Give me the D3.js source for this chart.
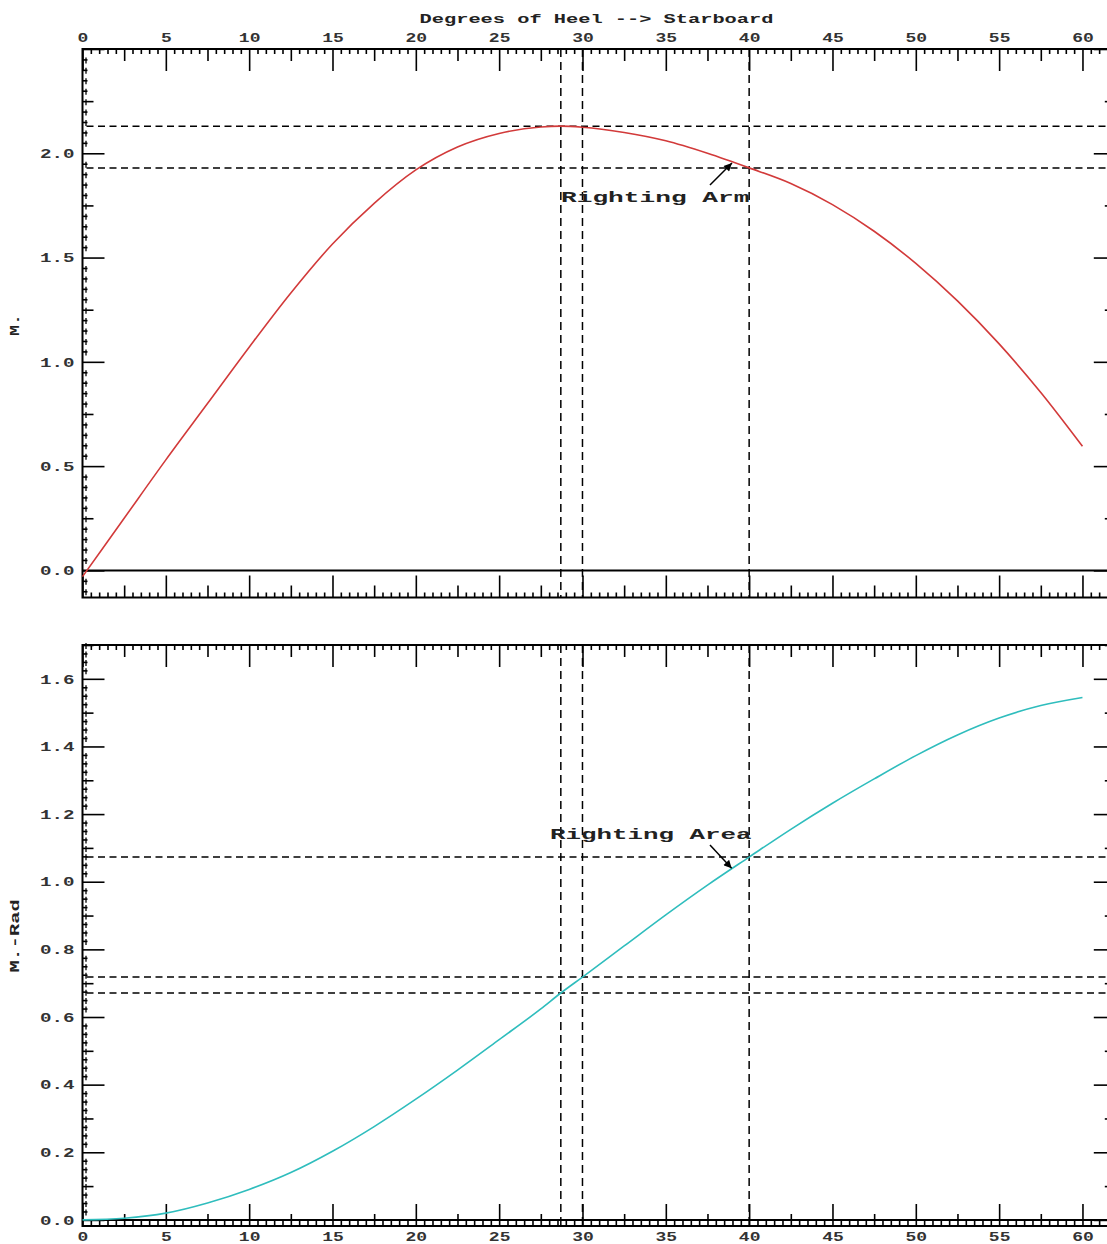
<!DOCTYPE html>
<html>
<head>
<meta charset="utf-8">
<script src="https://cdn.jsdelivr.net/npm/d3@7"></script>
<style>
  html, body { margin: 0; padding: 0; background: #fff; }
  svg { display: block; }
</style>
</head>
<body>
<svg id="chart" width="1107" height="1244"></svg>
<script>
// ---------------- DATA ----------------
const xTickLabels = [0, 5, 10, 15, 20, 25, 30, 35, 40, 45, 50, 55, 60];
const topYTickLabels = [0.0, 0.5, 1.0, 1.5, 2.0];
const bottomYTickLabels = [0.0, 0.2, 0.4, 0.6, 0.8, 1.0, 1.2, 1.4, 1.6];

const heelDeg = [0, 2.5, 5, 7.5, 10, 12.5, 15, 17.5, 20, 22.5, 25, 27.5, 28.7, 30, 32.5, 35, 37.5, 40, 42.5, 45, 47.5, 50, 52.5, 55, 57.5, 60];
const rightingArm = [-0.03, 0.25, 0.53, 0.80, 1.07, 1.33, 1.565, 1.76, 1.92, 2.03, 2.095, 2.126, 2.13, 2.125, 2.10, 2.06, 2.00, 1.93, 1.855, 1.754, 1.626, 1.472, 1.292, 1.086, 0.853, 0.595];
const rightingArea = [0.0, 0.005, 0.02, 0.05, 0.09, 0.14, 0.203, 0.276, 0.357, 0.443, 0.533, 0.624, 0.671, 0.718, 0.81, 0.902, 0.99, 1.073, 1.155, 1.232, 1.304, 1.373, 1.434, 1.484, 1.521, 1.545];

const refHeel = [28.7, 30, 40];
const refArm = [2.13, 1.93];
const refArea = [1.073, 0.718, 0.671];

const xTitle = "Degrees of Heel --> Starboard";
const topYTitle = "M.";
const bottomYTitle = "M.-Rad";
const armLabel = "Righting Arm";
const areaLabel = "Righting Area";
// annotation arrows: [tailX, tailY, tipX, tipY] in data units
const armArrow = [37.65, 1.848, 38.97, 1.953];
const areaArrow = [37.65, 1.1085, 38.95, 1.0396];

// ---------------- SETUP ----------------
const svg = d3.select("#chart");
const FONT = "'Liberation Mono', 'DejaVu Sans Mono', monospace";

const x = d3.scaleLinear().domain([0, 62]).range([82.5, 1115.8]);
const yTop = d3.scaleLinear().domain([-0.13, 2.5]).range([597.5, 49]);
const yBot = d3.scaleLinear().domain([-0.018, 1.7]).range([1226, 645]);

const defs = svg.append("defs");
defs.append("marker")
  .attr("id", "arrowhead")
  .attr("viewBox", "0 0 10 10")
  .attr("refX", 10).attr("refY", 5)
  .attr("markerWidth", 12).attr("markerHeight", 8)
  .attr("markerUnits", "userSpaceOnUse")
  .attr("orient", "auto")
  .append("path").attr("d", "M0,0 L10,5 L0,10 z").attr("fill", "#000");

function styleText(sel, charW, size, color) {
  sel.attr("font-family", FONT)
     .attr("font-weight", "bold")
     .attr("font-size", size)
     .attr("fill", color)
     .attr("lengthAdjust", "spacingAndGlyphs")
     .attr("textLength", function() { return this.textContent.length * charW; });
}

function tickSet(g, axisFn, scale, values, size) {
  g.call(axisFn(scale).tickValues(values).tickSize(size).tickFormat(""));
  g.select(".domain").remove();
  g.selectAll(".tick line").attr("stroke", "#000").attr("stroke-width", 1.6);
  g.selectAll(".tick text").remove();
}

const xAll = d3.range(0, 125).map(i => i * 0.5);
const xMinor = xAll.filter((d, i) => i % 5 !== 0);
const xMed = xAll.filter((d, i) => i % 5 === 0 && i % 10 !== 0);
const xMaj = xAll.filter((d, i) => i % 10 === 0);

function drawPanel(y, yMinor, yMed, yMaj, yLabels, yFmt, curveData, color, refY) {
  const [x0, x1] = x.range();
  const [yb, yt] = y.range();
  const g = svg.append("g");

  // x ticks on top edge (pointing down) and bottom edge (pointing up)
  [[xMinor, 5], [xMed, 12], [xMaj, 22]].forEach(([vals, len]) => {
    tickSet(g.append("g").attr("transform", `translate(0,${yt})`), d3.axisTop, x, vals, -len);
    tickSet(g.append("g").attr("transform", `translate(0,${yb})`), d3.axisBottom, x, vals, -len);
  });
  // y ticks on left and right edges (pointing inward)
  [[yMinor, 5], [yMed, 11], [yMaj, 22]].forEach(([vals, len]) => {
    tickSet(g.append("g").attr("transform", `translate(${x0},0)`), d3.axisLeft, y, vals, -len);
    tickSet(g.append("g").attr("transform", `translate(${x1},0)`), d3.axisRight, y, vals, -len);
  });
  // small vertical stubs under left minor ticks (double-rule look of the original)
  g.append("g").selectAll("line").data(yMinor.concat(yMed)).join("line")
    .attr("x1", x0 + 3.5).attr("x2", x0 + 3.5)
    .attr("y1", d => y(d) - 2).attr("y2", d => y(d) + 4)
    .attr("stroke", "#000").attr("stroke-width", 1.3);

  // frame
  g.append("rect").attr("x", x0).attr("y", yt).attr("width", x1 - x0).attr("height", yb - yt)
    .attr("fill", "none").attr("stroke", "#000").attr("stroke-width", 2);
  // zero line
  g.append("line").attr("x1", x0).attr("x2", x1).attr("y1", y(0)).attr("y2", y(0))
    .attr("stroke", "#000").attr("stroke-width", 2);

  // y labels
  const yl = g.append("g").attr("transform", `translate(${x0},0)`)
    .call(d3.axisLeft(y).tickValues(yLabels).tickSize(0).tickPadding(8).tickFormat(yFmt));
  yl.select(".domain").remove();
  yl.selectAll("text").attr("dy", "0.35em");
  styleText(yl.selectAll("text"), 11.5, 12, "#333");

  // reference dashed lines
  refHeel.forEach(h => {
    g.append("line").attr("x1", x(h)).attr("x2", x(h)).attr("y1", yt).attr("y2", yb)
      .attr("stroke", "#000").attr("stroke-width", 1.5).attr("stroke-dasharray", "8,5");
  });
  refY.forEach(v => {
    g.append("line").attr("x1", x0 + 4).attr("x2", x1).attr("y1", y(v)).attr("y2", y(v))
      .attr("stroke", "#000").attr("stroke-width", 1.5).attr("stroke-dasharray", "7,4.5");
  });

  // curve
  const line = d3.line().x((d, i) => x(heelDeg[i])).y(d => y(d)).curve(d3.curveMonotoneX);
  g.append("path").datum(curveData).attr("d", line)
    .attr("fill", "none").attr("stroke", color).attr("stroke-width", 1.6);
  return g;
}

const tAll = d3.range(-2, 51).map(i => +(i * 0.05).toFixed(3));
const topMinor = tAll.filter(d => Math.round(d * 100) % 25 !== 0);
const topMed = tAll.filter(d => Math.round(d * 100) % 25 === 0 && Math.round(d * 100) % 50 !== 0);
const topMaj = tAll.filter(d => Math.round(d * 100) % 50 === 0);

const bAll = d3.range(0, 69).map(i => +(i * 0.025).toFixed(3));
const botMinor = bAll.filter((d, i) => i % 4 !== 0);
const botMed = bAll.filter((d, i) => i % 4 === 0 && i % 8 !== 0);
const botMaj = bAll.filter((d, i) => i % 8 === 0);

drawPanel(yTop, topMinor, topMed, topMaj, topYTickLabels, d3.format(".1f"), rightingArm, "#d23a3a", refArm);
drawPanel(yBot, botMinor, botMed, botMaj, bottomYTickLabels, d3.format(".1f"), rightingArea, "#2fbdbd", refArea);

// x labels: top of upper panel and bottom of lower panel
const xlTop = svg.append("g").attr("transform", `translate(0,${yTop.range()[1]})`)
  .call(d3.axisTop(x).tickValues(xTickLabels).tickSize(0).tickPadding(7));
xlTop.select(".domain").remove();
styleText(xlTop.selectAll("text"), 10.8, 12, "#333");

const xlBot = svg.append("g").attr("transform", `translate(0,${yBot.range()[0]})`)
  .call(d3.axisBottom(x).tickValues(xTickLabels).tickSize(0).tickPadding(6));
xlBot.select(".domain").remove();
styleText(xlBot.selectAll("text"), 10.8, 12, "#333");

// titles
styleText(svg.append("text").attr("x", 596.5).attr("y", 23).attr("text-anchor", "middle").text(xTitle), 12.2, 12, "#222");
styleText(svg.append("text").attr("transform", "translate(19,325) rotate(-90)").attr("text-anchor", "middle").text(topYTitle), 11, 12, "#222");
styleText(svg.append("text").attr("transform", "translate(19,936) rotate(-90)").attr("text-anchor", "middle").text(bottomYTitle), 12.2, 12, "#222");

// annotations
styleText(svg.append("text").attr("x", 561).attr("y", 202).text(armLabel), 15.7, 14, "#222");
svg.append("line")
  .attr("x1", x(armArrow[0])).attr("y1", yTop(armArrow[1]))
  .attr("x2", x(armArrow[2])).attr("y2", yTop(armArrow[3]))
  .attr("stroke", "#000").attr("stroke-width", 1.5).attr("marker-end", "url(#arrowhead)");

styleText(svg.append("text").attr("x", 550).attr("y", 839).text(areaLabel), 15.5, 14, "#222");
svg.append("line")
  .attr("x1", x(areaArrow[0])).attr("y1", yBot(areaArrow[1]))
  .attr("x2", x(areaArrow[2])).attr("y2", yBot(areaArrow[3]))
  .attr("stroke", "#000").attr("stroke-width", 1.5).attr("marker-end", "url(#arrowhead)");
</script>
</body>
</html>
